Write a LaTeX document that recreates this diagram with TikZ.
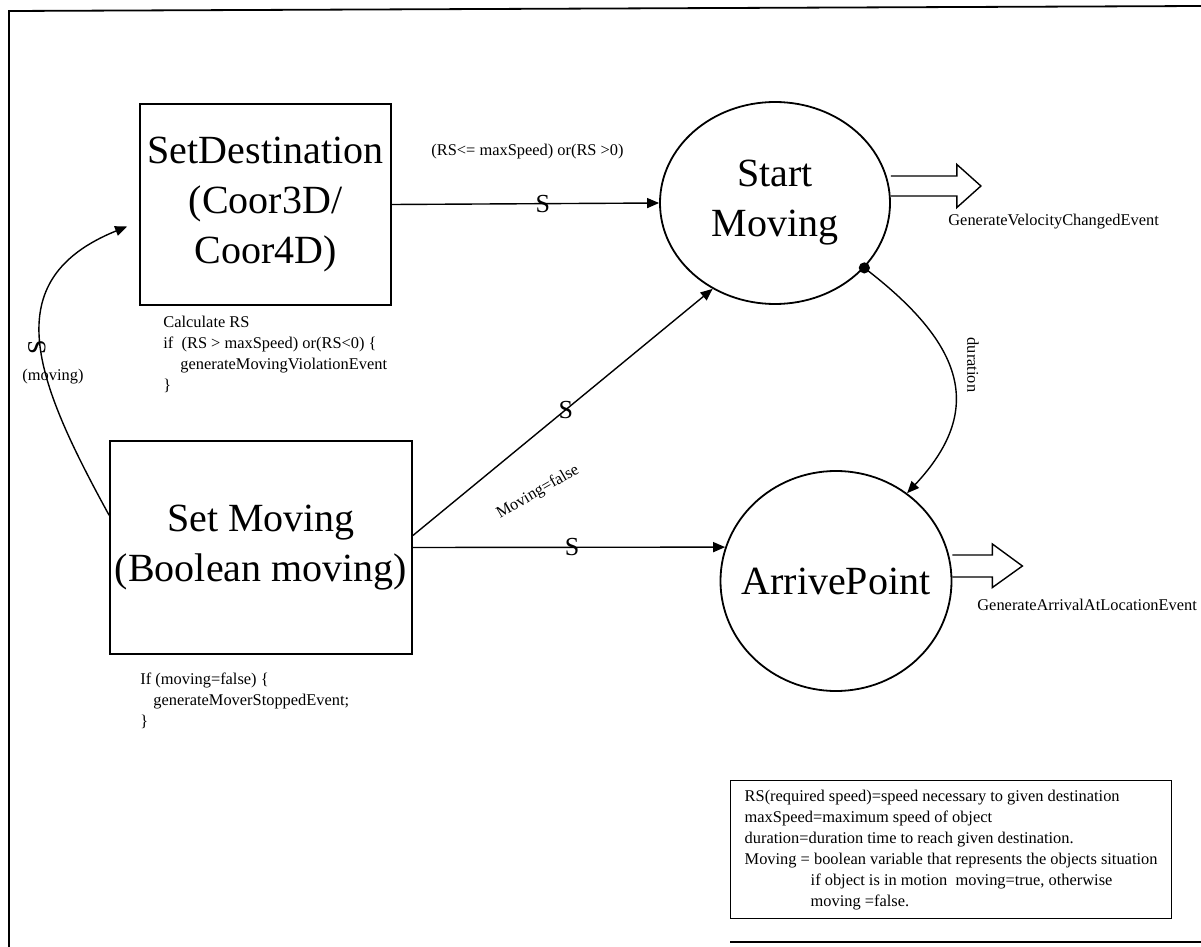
\documentclass[tikz,border=0pt]{standalone}
\usepackage{fontspec}
\setmainfont{Liberation Serif}
\usetikzlibrary{arrows.meta,shapes.geometric}
\tikzset{%
  sbox/.style={draw,line width=0.9pt,align=center,inner sep=0,font=\fontsize{20}{25}\selectfont},
  soval/.style={draw,shape=ellipse,line width=0.9pt,align=center,inner sep=0,font=\fontsize{20}{25}\selectfont},
  trans/.style={draw,line width=0.7pt,-{Triangle[length=6pt,width=5pt]}},
  slab/.style={font=\fontsize{13}{13}\selectfont,inner sep=0},
  small/.style={font=\fontsize{8.2}{10.5}\selectfont,inner sep=0,align=left},
  hollow/.style={draw,line width=0.7pt,line join=miter}
}
\begin{document}
\begin{tikzpicture}[x=0.5pt,y=-0.5pt]
    \useasboundingbox (0,0) rectangle (1201,947);
    % frame
    \draw[line width=0.9pt] (1201,6) -- (9,11) -- (9,947);
    \draw[line width=0.9pt] (730,942) -- (1201,942);
    % states
    \node[sbox,minimum width=125.5pt,minimum height=100.5pt] (setdest) at (265.5,204.5) {SetDestination\\(Coor3D/\\Coor4D)};
    \node[sbox,minimum width=151pt,minimum height=106.5pt] (setmov) at (261,547.5) {Set Moving\\(Boolean moving)};
    \node[soval,minimum width=115pt,minimum height=101pt] (start) at (775,203) {Start\\Moving};
    \node[soval,minimum width=115.5pt,minimum height=110pt] (arrive) at (836,581) {\makebox[0pt]{ArrivePoint}};
    % transitions
    \draw[trans] (setdest.east) -- node[slab,pos=0.565] (s_1) {S} (start.west);
    \draw[trans] ([yshift=6pt]setmov.east) -- node[slab,pos=0.51] (s_2) {S} (start.234);
    \draw[trans] (setmov.east) -- node[slab,pos=0.51] (s_3) {S} (arrive.163);
    \draw[trans] (setmov.168) .. controls (35,380) and (-5,280) .. ([xshift=-6pt,yshift=-11pt]setdest.west);
    \draw[trans] (start.-36) .. controls (965,345) and (985,410) .. (arrive.51);
    \fill (start.-36) circle (2.8pt);
    \node[slab,rotate=90] (s_4) at (37,347) {S};
    % labels
    \node[small] (cond) at (527.5,152) {(RS<= maxSpeed) or(RS >0)};
    \node[small,rotate=30] (mfalse) at (538,492) {Moving=false};
    \node[small] (mv) at (53,377) {(moving)};
    \node[small,rotate=-90] (dur) at (973,365) {duration};
    % generated events
    \draw[hollow] ([yshift=13.5pt]start.east) -- ++(66,0) -- ++(0,-11.5) -- ++(24,21.5) -- ++(-24,21.5) -- ++(0,-11.5) -- ++(-66,0);
    \draw[hollow] ([yshift=13pt]arrive.east) -- ++(40,0) -- ++(0,-11) -- ++(30,22) -- ++(-30,21.5) -- ++(0,-10.5) -- ++(-40,0);
    \node[small,anchor=west] (velev) at (948,222) {GenerateVelocityChangedEvent};
    \node[small,anchor=west] (arrev) at (977,605) {GenerateArrivalAtLocationEvent};
    % actions
    \node[small,anchor=north west] (calc) at (163,316) {Calculate RS\\if~~(RS > maxSpeed) or(RS<0) \{\\\hspace*{8.5pt}generateMovingViolationEvent\\\}};
    \node[small,anchor=north west] (stopev) at (140,673) {If (moving=false) \{\\\hspace*{6.5pt}generateMoverStoppedEvent;\\\}};
    % legend
    \node[small,draw,line width=0.7pt,anchor=north west,inner xsep=7pt,inner ysep=4.5pt] (legend) at (730,780) {RS(required speed)=speed necessary to given destination\\maxSpeed=maximum speed of object\\duration=duration time to reach given destination.\\Moving = boolean variable that represents the objects situation\\\hspace*{33pt}if object is in motion~~moving=true, otherwise\\\hspace*{33pt}moving =false.};
\end{tikzpicture}
\end{document}
